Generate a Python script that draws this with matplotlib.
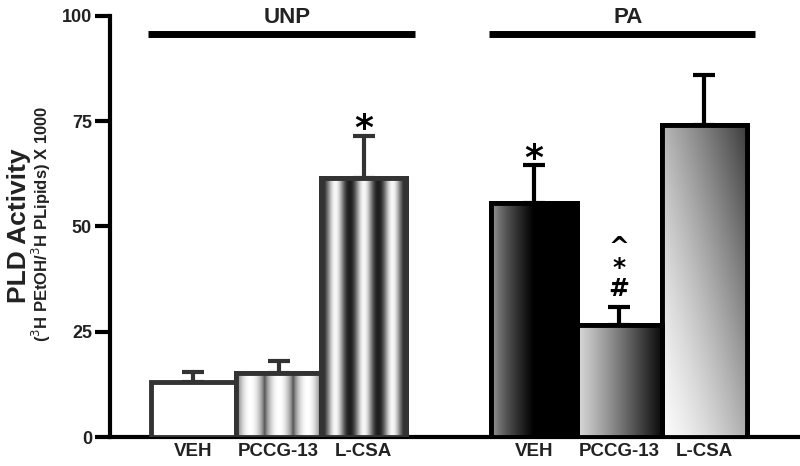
import numpy as np
import matplotlib
matplotlib.use("Agg")
import matplotlib.pyplot as plt

plt.rcParams['font.family'] = ['Liberation Sans', 'DejaVu Sans']

# data
groups = ["UNP", "PA"]
treatments = ["VEH", "PCCG-13", "L-CSA"]
unp_means = [13.0, 15.2, 61.5]
unp_err = [2.5, 2.8, 10.0]
pa_means = [55.5, 26.5, 74.0]
pa_err = [9.0, 4.5, 12.0]
# significance marks per bar (top line first)
unp_marks = ["", "", "*"]
pa_marks = ["*", "^\n*\n#", ""]

unp_x = [0, 1, 2]
pa_x = [4, 5, 6]

fig = plt.figure(figsize=(8, 4.66), dpi=100)
ax = fig.add_axes([0.1375, 0.062, 0.86, 0.904])
ax.set_xlim(-0.98, 7.1)
ax.set_ylim(0, 100)


def stripes(dark):
    t = np.linspace(0, 3, 300) % 1.0
    v = np.sin(np.pi * t)
    if dark:
        v = 0.12 + 0.85 * v ** 2.2
    else:
        v = 0.3 + 0.7 * v ** 0.7
    return np.tile(v, (10, 1))


def hgrad(lo, hi, power=1.0, sat=1.0):
    t = np.clip(np.linspace(0, 1, 300) / sat, 0, 1) ** power
    return np.tile(lo + (hi - lo) * t, (10, 1))


def diag():
    xx, yy = np.meshgrid(np.linspace(0, 1, 200), np.linspace(0, 1, 300))
    # row 0 is the top of the bar
    d = (xx + (1 - yy) * 0.9) / 1.9
    return 0.98 - 0.75 * d ** 1.4


fills = [None, stripes(False), stripes(True),
         hgrad(0.65, 0.0, 0.7, 0.5), hgrad(0.85, 0.03, 1.1), diag()]
edge = ["#333333"] * 3 + ["black"] * 3

xs = unp_x + pa_x
means = unp_means + pa_means
errs = unp_err + pa_err
marks = unp_marks + pa_marks

for i, (x, m, e) in enumerate(zip(xs, means, errs)):
    ax.errorbar(x, m, yerr=[[0], [e]], fmt="none", ecolor=edge[i],
                elinewidth=3, capsize=8, capthick=3, zorder=2)
    bar = ax.bar(x, m, width=1.0, facecolor="white", edgecolor=edge[i],
                 linewidth=3.5, zorder=3)[0]
    if fills[i] is not None:
        im = ax.imshow(fills[i], cmap="gray", vmin=0, vmax=1, aspect="auto",
                       extent=[x - 0.5, x + 0.5, 0, m], origin="upper",
                       interpolation="bilinear", zorder=3.5)
        im.set_clip_path(bar)
        ax.bar(x, m, width=1.0, facecolor="none", edgecolor=edge[i],
               linewidth=3.5, zorder=4)
    if marks[i] == "*":
        ax.text(x, m + e - 0.8, "*", ha="center", va="baseline", fontsize=26,
                fontweight="bold", family="DejaVu Sans")
    elif marks[i]:
        ax.text(x, m + e + 1.3, marks[i], ha="center", va="bottom",
                fontsize=18, fontweight="bold", family="DejaVu Sans",
                linespacing=0.85)

# group bars and labels
for g, gx in zip(groups, [unp_x, pa_x]):
    ax.plot([gx[0] - 0.53, gx[-1] + 0.6], [95.7, 95.7], color="black",
            lw=5, solid_capstyle="butt", clip_on=False)
    ax.text(np.mean(gx) + 0.1, 98.3, g, ha="center", va="baseline",
            fontsize=16, fontweight="bold", color="#222222")

ax.set_xticks(xs)
ax.set_xticklabels(treatments + treatments, fontsize=13.5, fontweight="bold",
                   color="#222222")
ax.tick_params(axis="x", length=0, pad=4)
ax.set_yticks([0, 25, 50, 75, 100])
ax.tick_params(axis="y", length=11, width=3, labelsize=13, pad=2)
for lab in ax.get_yticklabels():
    lab.set_fontweight("bold")
    lab.set_color("#222222")
for s in ["top", "right"]:
    ax.spines[s].set_visible(False)
for s in ["left", "bottom"]:
    ax.spines[s].set_linewidth(3)

fig.text(0.024, 0.515, "PLD Activity", rotation=90, ha="center", va="center",
         fontsize=19, fontweight="bold", color="#222222")
fig.text(0.052, 0.52, r"($^{3}$H PEtOH/$^{3}$H PLipids) X 1000", rotation=90,
         ha="center", va="center", fontsize=12, fontweight="bold",
         color="#222222")

fig.savefig("out.png", dpi=100)
